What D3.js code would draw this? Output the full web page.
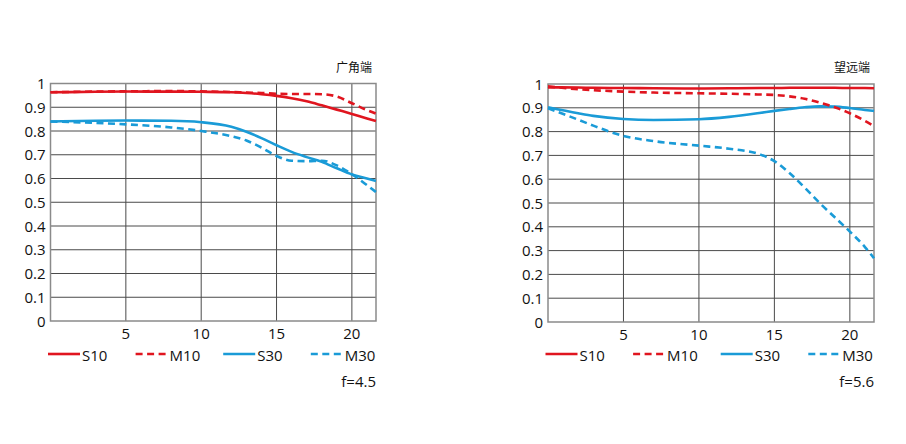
<!DOCTYPE html>
<html>
<head>
<meta charset="utf-8">
<script src="https://cdn.jsdelivr.net/npm/d3@7"></script>
<style>
  html, body { margin: 0; padding: 0; background: #fff; }
  svg { display: block; }
  text { font-family: "Open Sans", "Noto Sans", sans-serif; fill: #111; }
</style>
</head>
<body>
<svg id="chart" width="906" height="444"></svg>
<script>
// ---- data ----
const xTicks = [5, 10, 15, 20];
const yTicks = [0, 0.1, 0.2, 0.3, 0.4, 0.5, 0.6, 0.7, 0.8, 0.9, 1];
const seriesNames = ["S10", "M10", "S30", "M30"];
const fLabels = ["f=4.5", "f=5.6"];
const panelTitles = ["广角端", "望远端"];

// Wide end (广角端)
const wideX   = [0, 3, 5, 8, 10, 12, 13, 14, 15, 16, 17, 18, 19, 20, 21, 21.6];
const wideS10 = [0.963, 0.965, 0.966, 0.966, 0.965, 0.963, 0.960, 0.955, 0.948, 0.938, 0.925, 0.908, 0.890, 0.872, 0.853, 0.842];
const wideM10 = [0.963, 0.966, 0.967, 0.968, 0.967, 0.964, 0.962, 0.960, 0.957, 0.956, 0.956, 0.955, 0.945, 0.917, 0.888, 0.873];
const wideS30 = [0.840, 0.843, 0.844, 0.843, 0.837, 0.818, 0.797, 0.770, 0.740, 0.712, 0.690, 0.670, 0.643, 0.617, 0.600, 0.590];
const wideM30 = [0.840, 0.834, 0.828, 0.815, 0.800, 0.778, 0.760, 0.730, 0.695, 0.675, 0.673, 0.675, 0.655, 0.618, 0.572, 0.543];

// Tele end (望远端)
const teleX   = [0, 2, 3, 5, 7, 10, 12, 14, 15, 16, 17, 18, 19, 20, 21, 21.6];
const teleS10 = [0.986, 0.985, 0.984, 0.983, 0.982, 0.981, 0.982, 0.983, 0.983, 0.984, 0.984, 0.984, 0.984, 0.983, 0.983, 0.982];
const teleM10 = [0.990, 0.978, 0.974, 0.968, 0.964, 0.961, 0.959, 0.956, 0.954, 0.948, 0.938, 0.922, 0.902, 0.877, 0.845, 0.823];
const teleS30 = [0.902, 0.877, 0.866, 0.853, 0.849, 0.852, 0.862, 0.878, 0.887, 0.895, 0.902, 0.906, 0.905, 0.899, 0.891, 0.887];
const teleM30 = [0.898, 0.850, 0.825, 0.782, 0.760, 0.741, 0.728, 0.705, 0.676, 0.626, 0.565, 0.500, 0.440, 0.380, 0.315, 0.268];

const colors = { S10: "#e0151f", M10: "#e0151f", S30: "#1a9bd7", M30: "#1a9bd7" };
const dashed = { S10: false, M10: true, S30: false, M30: true };

const panels = [
  { x: wideX, series: { S10: wideS10, M10: wideM10, S30: wideS30, M30: wideM30 },
    left: 50.5, right: 376, top: 83.5, bottom: 321, title: panelTitles[0], f: fLabels[0] },
  { x: teleX, series: { S10: teleS10, M10: teleM10, S30: teleS30, M30: teleM30 },
    left: 548, right: 874, top: 84, bottom: 322, title: panelTitles[1], f: fLabels[1] }
];

const svg = d3.select("#chart");

panels.forEach(p => {
  const g = svg.append("g");
  const x = d3.scaleLinear().domain([0, 21.6]).range([p.left, p.right]);
  const y = d3.scaleLinear().domain([0, 1]).range([p.bottom, p.top]);

  // horizontal grid
  g.append("g").selectAll("line").data(yTicks.filter(v => v > 0 && v < 1)).join("line")
    .attr("x1", p.left).attr("x2", p.right)
    .attr("y1", d => y(d)).attr("y2", d => y(d))
    .attr("stroke", "#4a4a4a").attr("stroke-width", 1);
  // vertical grid
  g.append("g").selectAll("line").data(xTicks).join("line")
    .attr("x1", d => x(d)).attr("x2", d => x(d))
    .attr("y1", p.top).attr("y2", p.bottom)
    .attr("stroke", "#4a4a4a").attr("stroke-width", 1);
  // frame
  g.append("rect").attr("x", p.left).attr("y", p.top)
    .attr("width", p.right - p.left).attr("height", p.bottom - p.top)
    .attr("fill", "none").attr("stroke", "#8a8a8a").attr("stroke-width", 1.5);

  // y tick labels
  g.append("g").selectAll("text").data(yTicks).join("text")
    .attr("x", p.left - 5).attr("y", d => y(d) + 5.5)
    .attr("text-anchor", "end").attr("font-size", 15)
    .text(d => d === 0 ? "0" : d === 1 ? "1" : d3.format(".1f")(d));
  // x tick labels
  g.append("g").selectAll("text").data(xTicks).join("text")
    .attr("x", d => x(d)).attr("y", p.bottom + 18)
    .attr("text-anchor", "middle").attr("font-size", 15)
    .text(d => d);

  // curves
  const line = d3.line().x((d, i) => x(p.x[i])).y(d => y(d)).curve(d3.curveMonotoneX);
  ["S30", "M30", "M10", "S10"].forEach(name => {
    g.append("path").datum(p.series[name])
      .attr("d", line)
      .attr("fill", "none")
      .attr("stroke", colors[name])
      .attr("stroke-width", 2.6)
      .attr("stroke-dasharray", dashed[name] ? "7,4.5" : null);
  });

  // title
  g.append("text").attr("x", p.right - 4).attr("y", p.top - 12)
    .attr("text-anchor", "end").attr("font-size", 12)
    .style("font-family", "'Noto Sans CJK SC', sans-serif")
    .text(p.title);

  // legend
  const lg = g.append("g");
  seriesNames.forEach((name, i) => {
    const lx = p.left - 2.5 + i * 87.6;
    lg.append("line").attr("x1", lx).attr("x2", lx + 32)
      .attr("y1", 354).attr("y2", 354)
      .attr("stroke", colors[name]).attr("stroke-width", 2.6)
      .attr("stroke-dasharray", dashed[name] ? "7,4.5" : null);
    lg.append("text").attr("x", lx + 34).attr("y", 360.5)
      .attr("font-size", 15).text(name);
  });

  g.append("text").attr("x", p.right).attr("y", 386.5)
    .attr("text-anchor", "end").attr("font-size", 15).text(p.f);
});
</script>
</body>
</html>
